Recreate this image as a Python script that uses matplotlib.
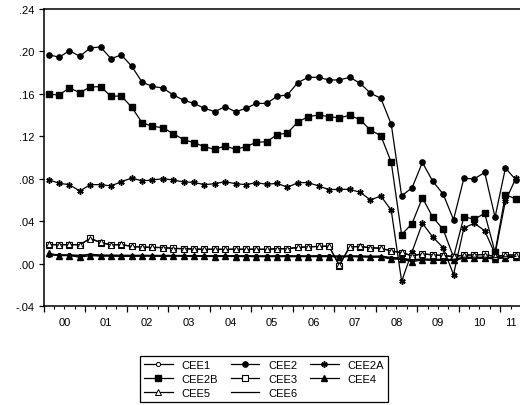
import matplotlib.pyplot as plt
import numpy as np

plt.rcParams['font.family'] = ['Liberation Sans', 'DejaVu Sans']

# quarterly observations 2000Q1 .. 2011Q2
years = ['00', '01', '02', '03', '04', '05', '06', '07', '08', '09', '10', '11']

cee2 = [0.197, 0.1945, 0.2007, 0.1954, 0.2033, 0.2042, 0.1932, 0.1967, 0.186, 0.171,
        0.167, 0.1655, 0.159, 0.154, 0.151, 0.1464, 0.1432, 0.148, 0.143, 0.1464,
        0.151, 0.151, 0.1577, 0.159, 0.1706, 0.1756, 0.1756, 0.1731, 0.1731, 0.1756,
        0.170, 0.1606, 0.1558, 0.1313, 0.064, 0.0713, 0.0953, 0.0776, 0.0655, 0.0414,
        0.0804, 0.0798, 0.086, 0.0437, 0.0901, 0.079]
cee2b = [0.1596, 0.159, 0.1656, 0.1611, 0.1665, 0.1668, 0.1577, 0.158, 0.1474, 0.1328,
         0.1294, 0.1281, 0.1225, 0.1168, 0.114, 0.1102, 0.1077, 0.1109, 0.1077, 0.1102,
         0.1143, 0.1149, 0.1215, 0.1231, 0.1335, 0.1385, 0.1401, 0.1385, 0.1373, 0.1398,
         0.1357, 0.1257, 0.1206, 0.0955, 0.0273, 0.0376, 0.062, 0.0437, 0.0323, 0.006,
         0.0442, 0.0417, 0.0474, 0.0107, 0.065, 0.0609]
cee2a = [0.0791, 0.0757, 0.0744, 0.0684, 0.0744, 0.0744, 0.0732, 0.0772, 0.0807, 0.0779,
         0.0788, 0.080, 0.0788, 0.0769, 0.0766, 0.0744, 0.0753, 0.0772, 0.0753, 0.0744,
         0.0763, 0.0747, 0.0757, 0.0719, 0.0763, 0.0763, 0.0732, 0.0697, 0.070, 0.070,
         0.0672, 0.060, 0.0637, 0.0502, -0.0167, 0.011, 0.038, 0.025, 0.015, -0.0104,
         0.0336, 0.038, 0.031, 0.009, 0.059, 0.0804]
cee3 = [0.0178, 0.0178, 0.0178, 0.0178, 0.0239, 0.0197, 0.0178, 0.0178, 0.0163, 0.0154,
        0.0154, 0.015, 0.0144, 0.014, 0.0138, 0.0135, 0.0135, 0.0135, 0.0135, 0.0135,
        0.0135, 0.0135, 0.014, 0.014, 0.0154, 0.0157, 0.0163, 0.0163, -0.002, 0.016,
        0.016, 0.015, 0.0144, 0.012, 0.0103, 0.0072, 0.0093, 0.0081, 0.0075, 0.0065,
        0.0081, 0.0081, 0.0087, 0.0065, 0.008, 0.008]
cee5 = [0.0182, 0.0176, 0.018, 0.0177, 0.0236, 0.0199, 0.0176, 0.018, 0.0161, 0.0156,
        0.0152, 0.0151, 0.0142, 0.0141, 0.0136, 0.0134, 0.0136, 0.0133, 0.0136, 0.0134,
        0.0136, 0.0133, 0.0141, 0.0139, 0.0152, 0.0158, 0.0161, 0.0165, -0.0015, 0.0158,
        0.0161, 0.0148, 0.0145, 0.0118, 0.0105, 0.0074, 0.0091, 0.0083, 0.0077, 0.0067,
        0.0079, 0.0083, 0.0085, 0.0067, 0.0078, 0.0082]
cee4 = [0.0097, 0.0075, 0.0075, 0.006, 0.0075, 0.007, 0.007, 0.0068, 0.0068, 0.007,
        0.007, 0.0068, 0.007, 0.007, 0.0068, 0.0068, 0.0066, 0.0068, 0.0066, 0.0066,
        0.0065, 0.0065, 0.0065, 0.0065, 0.0065, 0.0065, 0.0065, 0.0065, 0.0062, 0.0065,
        0.0063, 0.006, 0.006, 0.0043, 0.004, 0.0018, 0.0034, 0.003, 0.003, 0.003,
        0.005, 0.005, 0.005, 0.0045, 0.0055, 0.006]
cee1 = [0.0081, 0.0078, 0.0077, 0.0072, 0.0085, 0.0075, 0.0074, 0.0073, 0.0073, 0.0074,
        0.0073, 0.0072, 0.0073, 0.0072, 0.0071, 0.0071, 0.007, 0.0071, 0.007, 0.0069,
        0.0069, 0.0068, 0.0068, 0.0069, 0.0068, 0.0068, 0.0068, 0.0069, 0.0066, 0.0068,
        0.0067, 0.0065, 0.0066, 0.0052, 0.0048, 0.003, 0.004, 0.0036, 0.0036, 0.0035,
        0.0055, 0.0055, 0.0056, 0.005, 0.006, 0.0064]
cee6 = [0.0089, 0.0083, 0.0082, 0.0078, 0.0088, 0.0081, 0.008, 0.0079, 0.0078, 0.0078,
        0.0077, 0.0077, 0.0077, 0.0076, 0.0075, 0.0075, 0.0075, 0.0075, 0.0074, 0.0074,
        0.0073, 0.0073, 0.0073, 0.0074, 0.0073, 0.0073, 0.0074, 0.0074, 0.0071, 0.0073,
        0.0072, 0.007, 0.0071, 0.0058, 0.0052, 0.0035, 0.0045, 0.004, 0.004, 0.004,
        0.006, 0.006, 0.006, 0.0055, 0.0064, 0.0068]

x = np.arange(len(cee2)) + 0.5

fig = plt.figure(figsize=(5.2, 4.06), dpi=100)
ax = fig.add_axes([43.5 / 520, 99 / 406, 477.5 / 520, 297 / 406])

k = dict(color='black', lw=0.9)
l1, = ax.plot(x, cee1, marker='o', ms=3, mfc='white', mec='black', mew=0.7, **k)
l2, = ax.plot(x, cee2, marker='o', ms=3.8, **k)
l2a, = ax.plot(x, cee2a, marker=(6, 2, 0), ms=4.5, mew=1.1, **k)
l2b, = ax.plot(x, cee2b, marker='s', ms=4.6, **k)
l3, = ax.plot(x, cee3, marker='s', ms=3.8, mfc='white', mec='black', mew=0.8, **k)
l4, = ax.plot(x, cee4, marker='^', ms=4.2, **k)
l5, = ax.plot(x, cee5, marker='^', ms=3.8, mfc='white', mec='black', mew=0.7, **k)
l6, = ax.plot(x, cee6, **k)

ax.set_xlim(0, 46)
ax.set_ylim(-0.04, 0.24)
yt = np.arange(-0.04, 0.2401, 0.04)
ax.set_yticks(yt)
ax.set_yticklabels(['-.04', '.00', '.04', '.08', '.12', '.16', '.20', '.24'], fontsize=8)

ax.set_xticks(np.arange(0, 46, 4))
ax.tick_params(axis='x', which='major', length=4.5, width=0.9, labelbottom=False)
qpos = [q for q in range(1, 46) if q % 4 != 0]
qlab = [''] * len(qpos)
for j, yr in enumerate(years):
    p = 2 + 4 * j if j < 11 else 45
    qlab[qpos.index(p)] = yr
ax.set_xticks(qpos, minor=True)
ax.set_xticklabels(qlab, minor=True, fontsize=8)
ax.tick_params(axis='x', which='minor', length=2.5, width=0.8, pad=5.5)
ax.tick_params(axis='y', length=3.5, width=0.9, pad=3)
for s in ax.spines.values():
    s.set_linewidth(1.1)

handles = [l1, l2b, l5, l2, l3, l6, l2a, l4]
labels = ['CEE1', 'CEE2B', 'CEE5', 'CEE2', 'CEE3', 'CEE6', 'CEE2A', 'CEE4']
leg = fig.legend(handles, labels, ncol=3, loc='upper center',
                 bbox_to_anchor=(264 / 520, 55 / 406), fontsize=8,
                 handlelength=2.6, handletextpad=0.8, columnspacing=1.1,
                 labelspacing=0.35, borderpad=0.4, fancybox=False,
                 edgecolor='black', framealpha=1)
leg.get_frame().set_linewidth(0.9)

fig.savefig('out.png', dpi=100)
